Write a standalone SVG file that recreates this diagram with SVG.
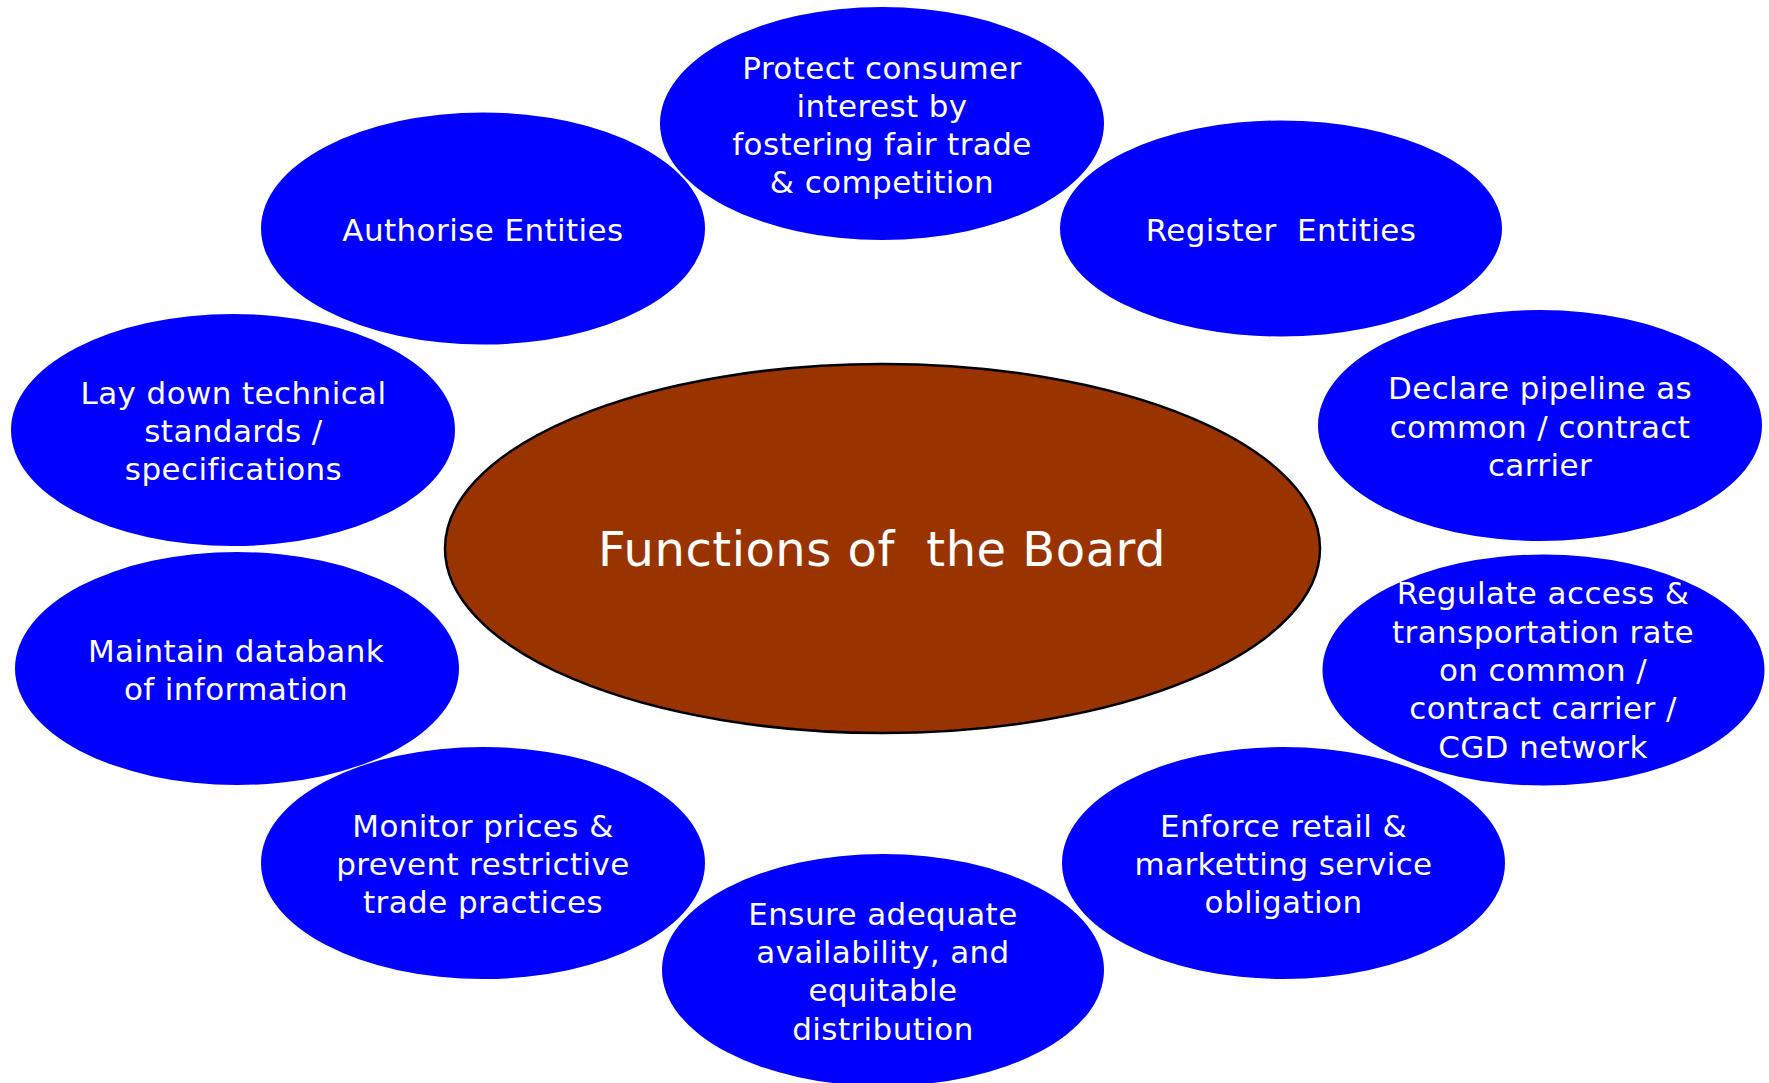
<svg xmlns="http://www.w3.org/2000/svg" width="1769" height="1083" viewBox="0 0 1769 1083">
<style>
.n{fill:#0000FF;}
.t{fill:#FFFFFF;font-family:"DejaVu Sans","Noto Sans",sans-serif;font-size:31px;letter-spacing:0.4px;text-anchor:middle;}
.c{fill:#993300;stroke:#000000;stroke-width:2.5;}
.ct{fill:#FFFFFF;font-family:"DejaVu Sans","Noto Sans",sans-serif;font-size:48px;letter-spacing:0.5px;text-anchor:middle;}
</style>
<rect width="1769" height="1083" fill="#FFFFFF"/>
<g id="connectors"></g>
<g id="center">
<ellipse class="c" cx="882.5" cy="548.5" rx="437.5" ry="184.5"/>
<text class="ct" x="882" y="566" xml:space="preserve">Functions of  the Board</text>
</g>
<g id="protect">
<ellipse class="n" cx="882" cy="123.5" rx="222" ry="116.5"/>
<text class="t" x="882" y="79">Protect consumer</text>
<text class="t" x="882" y="117">interest by</text>
<text class="t" x="882" y="155">fostering fair trade</text>
<text class="t" x="882" y="193">&amp; competition</text>
</g>
<g id="authorise">
<ellipse class="n" cx="483" cy="228.5" rx="222" ry="116"/>
<text class="t" x="483" y="241">Authorise Entities</text>
</g>
<g id="register">
<ellipse class="n" cx="1281" cy="228.5" rx="221" ry="108"/>
<text class="t" x="1281" y="241" xml:space="preserve">Register  Entities</text>
</g>
<g id="laydown">
<ellipse class="n" cx="233" cy="430" rx="222" ry="116"/>
<text class="t" x="233.5" y="404">Lay down technical</text>
<text class="t" x="233.5" y="442">standards /</text>
<text class="t" x="233.5" y="480">specifications</text>
</g>
<g id="declare">
<ellipse class="n" cx="1540" cy="425.5" rx="222" ry="115.5"/>
<text class="t" x="1540" y="399">Declare pipeline as</text>
<text class="t" x="1540" y="438">common / contract</text>
<text class="t" x="1540" y="476">carrier</text>
</g>
<g id="maintain">
<ellipse class="n" cx="237" cy="668.5" rx="222" ry="116.5"/>
<text class="t" x="236" y="662">Maintain databank</text>
<text class="t" x="236" y="700">of information</text>
</g>
<g id="regulate">
<ellipse class="n" cx="1543.5" cy="670" rx="221" ry="115.5"/>
<text class="t" x="1543" y="604">Regulate access &amp;</text>
<text class="t" x="1543" y="643">transportation rate</text>
<text class="t" x="1543" y="681">on common /</text>
<text class="t" x="1543" y="719">contract carrier /</text>
<text class="t" x="1543" y="758">CGD network</text>
</g>
<g id="monitor">
<ellipse class="n" cx="483" cy="863" rx="222" ry="116"/>
<text class="t" x="483" y="837">Monitor prices &amp;</text>
<text class="t" x="483" y="875">prevent restrictive</text>
<text class="t" x="483" y="913">trade practices</text>
</g>
<g id="enforce">
<ellipse class="n" cx="1283.5" cy="863" rx="221.5" ry="116"/>
<text class="t" x="1283.5" y="837">Enforce retail &amp;</text>
<text class="t" x="1283.5" y="875">marketting service</text>
<text class="t" x="1283.5" y="913">obligation</text>
</g>
<g id="ensure">
<ellipse class="n" cx="883" cy="970" rx="221" ry="116"/>
<text class="t" x="883" y="925">Ensure adequate</text>
<text class="t" x="883" y="963">availability, and</text>
<text class="t" x="883" y="1001">equitable</text>
<text class="t" x="883" y="1040">distribution</text>
</g>
</svg>
